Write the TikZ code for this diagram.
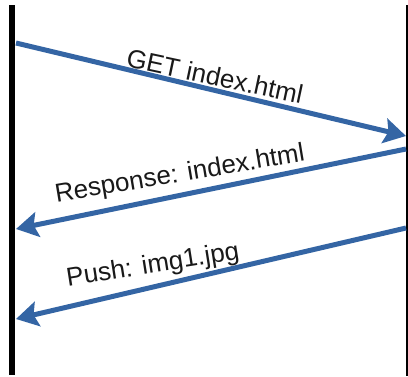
\documentclass[tikz,border=0pt]{standalone}
\usepackage{fontspec}
\setmainfont{Liberation Sans}
\usetikzlibrary{arrows.meta}
\definecolor{msgblue}{RGB}{52,101,164}
\begin{document}
\begin{tikzpicture}[x=1pt,y=-1pt,
  lifeline/.style={draw=black,line width=6pt},
  msg/.style={draw=msgblue,line width=5pt,-{Stealth[length=22pt,width=25pt,inset=4pt]}},
  msglabel/.style={font=\fontsize{26}{30}\selectfont,inner sep=0pt,text=black!90}]
  \useasboundingbox (0,0) rectangle (408,376);
  % lifelines of client and server
  \coordinate (ctop) at (11.5,5);
  \coordinate (cbot) at (11.5,375);
  \coordinate (stop) at (407.5,5);
  \coordinate (sbot) at (407.5,376);
  \draw[lifeline] (ctop) -- (cbot);
  \draw[draw=black,line width=3pt] (stop) -- (sbot);
  % request
  \coordinate (r1a) at (16,43);
  \coordinate (r1b) at (406,136);
  \draw[msg] (r1a) -- (r1b);
  \node[msglabel,rotate=-12] (l1) at (215,76) {GET index.html};
  % response
  \coordinate (r2a) at (406,149);
  \coordinate (r2b) at (16,229);
  \draw[msg] (r2a) -- (r2b);
  \node[msglabel,rotate=9.5] (l2) at (180,175) {Response: index.html};
  % server push
  \coordinate (r3a) at (406,228);
  \coordinate (r3b) at (16,319);
  \draw[msg] (r3a) -- (r3b);
  \node[msglabel,rotate=9] (l3) at (153,266) {Push: img1.jpg};
\end{tikzpicture}
\end{document}
